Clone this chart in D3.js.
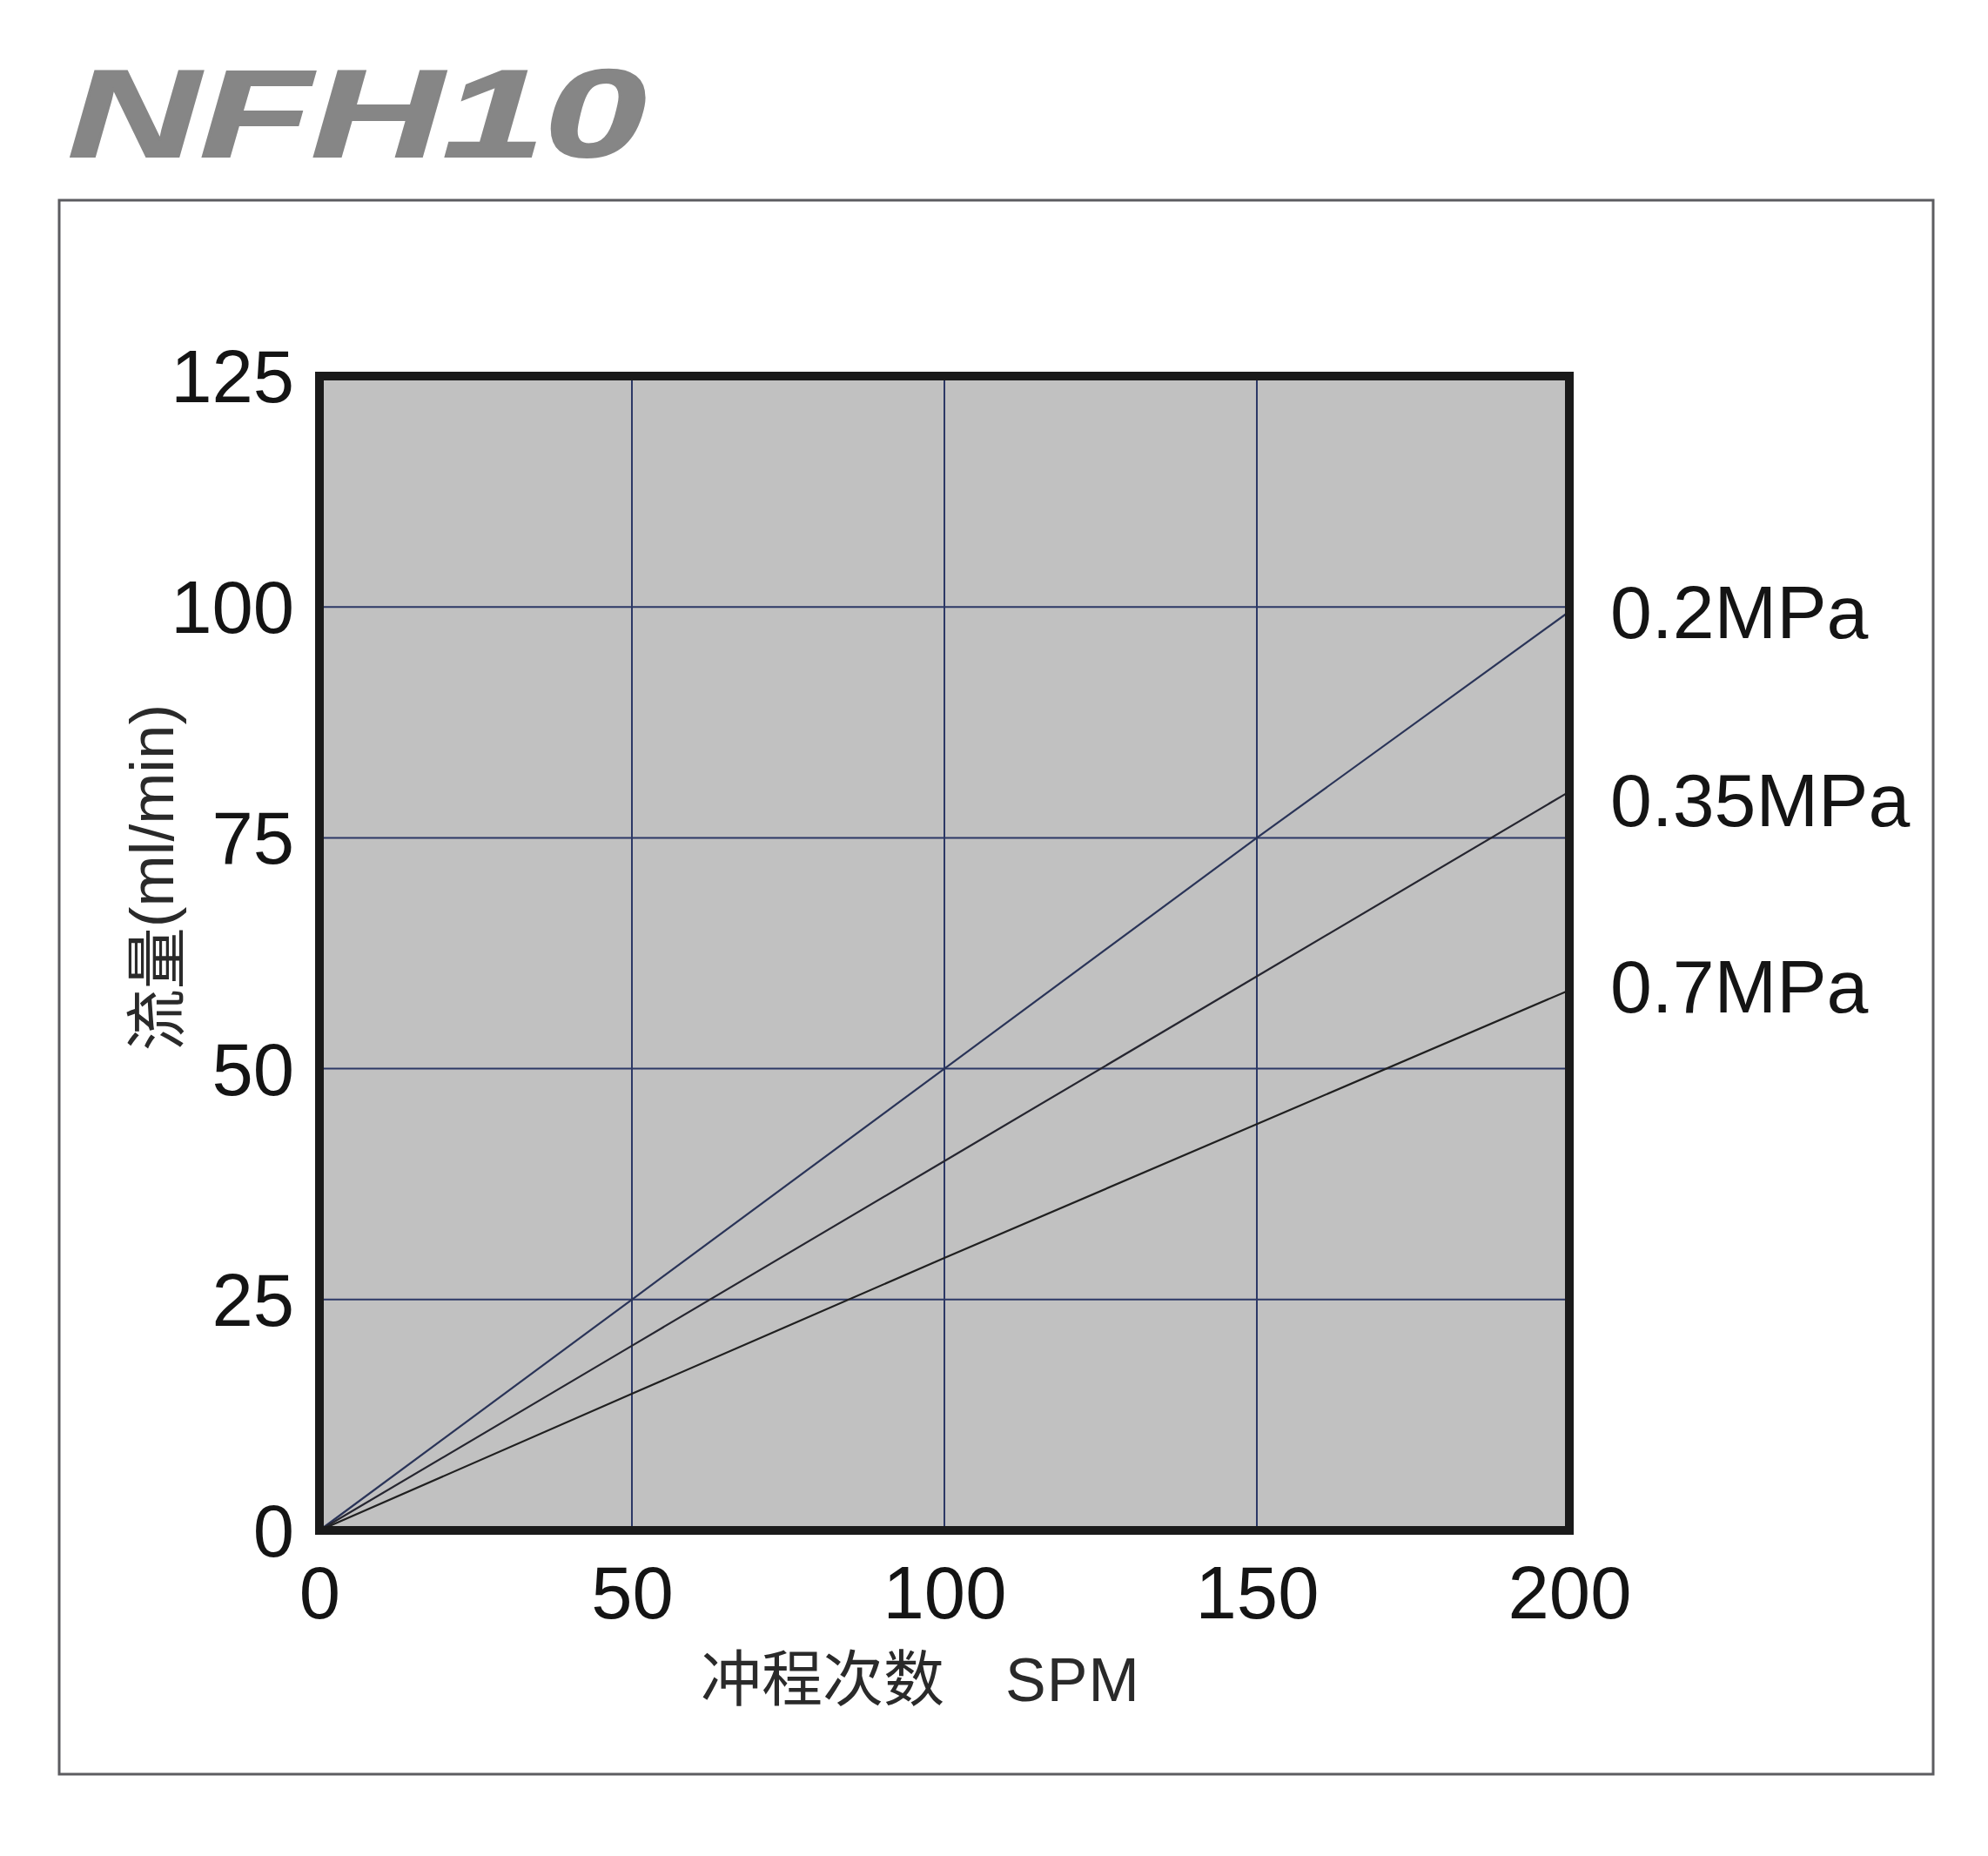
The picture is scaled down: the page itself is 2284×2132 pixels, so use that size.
<!DOCTYPE html>
<html>
<head>
<meta charset="utf-8">
<script src="https://cdn.jsdelivr.net/npm/d3@7"></script>
<style>
  html, body { margin: 0; padding: 0; background: #ffffff; }
  svg { display: block; }
</style>
</head>
<body>
<svg id="chart" width="2284" height="2132"></svg>
<script>
// ---- data ----
const chartTitle = "NFH10";
const xTickValues = [0, 50, 100, 150, 200];
const yTickValues = [0, 25, 50, 75, 100, 125];
const spm = [0, 50, 100, 150, 200];
const flow02 = [0, 25, 50, 75, 99.5];
const flow035 = [0, 20, 40, 60, 80];
const flow07 = [0, 14.8, 29.5, 44, 58.5];
const seriesNames = ["0.2MPa", "0.35MPa", "0.7MPa"];
const xTitleCJK = "冲程次数";
const xTitleLatin = "SPM";
const yTitleCJK = "流量";
const yTitleLatin = "(ml/min)";

(function () {
// ---- layout ----
const svg = d3.select("#chart");
const W = 2284, H = 2132;
const pL = 367, pR = 1803, pT = 432, pB = 1758;

svg.append("rect").attr("x", 0).attr("y", 0).attr("width", W).attr("height", H).attr("fill", "#ffffff");

// outer frame
svg.append("rect")
  .attr("x", 68).attr("y", 230).attr("width", 2153).attr("height", 1808)
  .attr("fill", "none").attr("stroke", "#5c5c60").attr("stroke-width", 3);

// title
svg.append("text")
  .attr("x", 78).attr("y", 180)
  .attr("font-family", "'Liberation Sans', Arial, sans-serif")
  .attr("font-weight", "bold").attr("font-style", "italic")
  .attr("font-size", 142)
  .attr("fill", "#868686")
  .attr("stroke", "#868686").attr("stroke-width", 2)
  .attr("textLength", 664).attr("lengthAdjust", "spacingAndGlyphs")
  .text(chartTitle);

const x = d3.scaleLinear().domain([0, 200]).range([pL, pR]);
const y = d3.scaleLinear().domain([0, 125]).range([pB, pT]);

// plot background
svg.append("rect")
  .attr("x", pL).attr("y", pT).attr("width", pR - pL).attr("height", pB - pT)
  .attr("fill", "#c1c1c1");

// gridlines
const grid = svg.append("g");
grid.selectAll("line.v").data(xTickValues.slice(1, -1)).join("line")
  .attr("class", "v")
  .attr("x1", d => x(d)).attr("x2", d => x(d))
  .attr("y1", pT).attr("y2", pB)
  .attr("stroke", "#2c3866").attr("stroke-width", 2);
grid.selectAll("line.h").data(yTickValues.slice(1, -1)).join("line")
  .attr("class", "h")
  .attr("x1", pL).attr("x2", pR)
  .attr("y1", d => y(d)).attr("y2", d => y(d))
  .attr("stroke", "#2c3866").attr("stroke-width", 2);

// series lines
const seriesValues = [flow02, flow035, flow07];
const seriesColors = ["#2a3458", "#262630", "#202020"];
const line = d3.line().x(d => x(d[0])).y(d => y(d[1]));
seriesValues.forEach((vals, i) => {
  const pts = spm.map((s, j) => [s, vals[j]]);
  svg.append("path").datum(pts)
    .attr("d", line)
    .attr("fill", "none")
    .attr("stroke", seriesColors[i])
    .attr("stroke-width", 2.2);
});

// plot border
svg.append("rect")
  .attr("x", pL).attr("y", pT).attr("width", pR - pL).attr("height", pB - pT)
  .attr("fill", "none").attr("stroke", "#1a1a1a").attr("stroke-width", 10);

// series labels
const labelOffsets = [0, 10, -4];
seriesNames.forEach((name, i) => {
  const vals = seriesValues[i];
  svg.append("text")
    .attr("x", pR + 47)
    .attr("y", y(vals[vals.length - 1]) + labelOffsets[i])
    .attr("dominant-baseline", "central")
    .attr("font-family", "'Liberation Sans', Arial, sans-serif")
    .attr("font-size", 86)
    .attr("fill", "#141414")
    .text(name);
});

// axes (tick labels)
const yAxis = svg.append("g")
  .attr("transform", `translate(${pL - 29},0)`)
  .call(d3.axisLeft(y).tickValues(yTickValues).tickSize(0).tickPadding(0).tickFormat(d3.format("d")));
yAxis.select(".domain").remove();
yAxis.selectAll("text")
  .attr("font-family", "'Liberation Sans', Arial, sans-serif")
  .attr("font-size", 85).attr("fill", "#141414")
  .attr("dy", null).attr("dominant-baseline", "central");

const xAxis = svg.append("g")
  .attr("transform", `translate(0,${pB + 39})`)
  .call(d3.axisBottom(x).tickValues(xTickValues).tickSize(0).tickPadding(0).tickFormat(d3.format("d")));
xAxis.select(".domain").remove();
xAxis.selectAll("text")
  .attr("font-family", "'Liberation Sans', Arial, sans-serif")
  .attr("font-size", 85).attr("fill", "#141414")
  .attr("dy", null).attr("dominant-baseline", "hanging");

// x axis title
const xt = svg.append("text")
  .attr("x", 805).attr("y", 1954)
  .attr("font-size", 70).attr("fill", "#2a2a2a");
xt.append("tspan").attr("font-family", "'Noto Sans CJK SC', sans-serif").text(xTitleCJK + "\u3000");
xt.append("tspan").attr("font-family", "'Liberation Sans', Arial, sans-serif").attr("letter-spacing", 1).text(xTitleLatin);

// y axis title
const yt = svg.append("text")
  .attr("transform", `translate(174,1008) rotate(-90)`)
  .attr("text-anchor", "middle")
  .attr("dominant-baseline", "central")
  .attr("font-size", 71).attr("fill", "#2a2a2a");
yt.append("tspan").attr("font-family", "'Noto Sans CJK SC', sans-serif").text(yTitleCJK);
yt.append("tspan").attr("font-family", "'Liberation Sans', Arial, sans-serif").text(yTitleLatin);
})();
</script>
</body>
</html>
